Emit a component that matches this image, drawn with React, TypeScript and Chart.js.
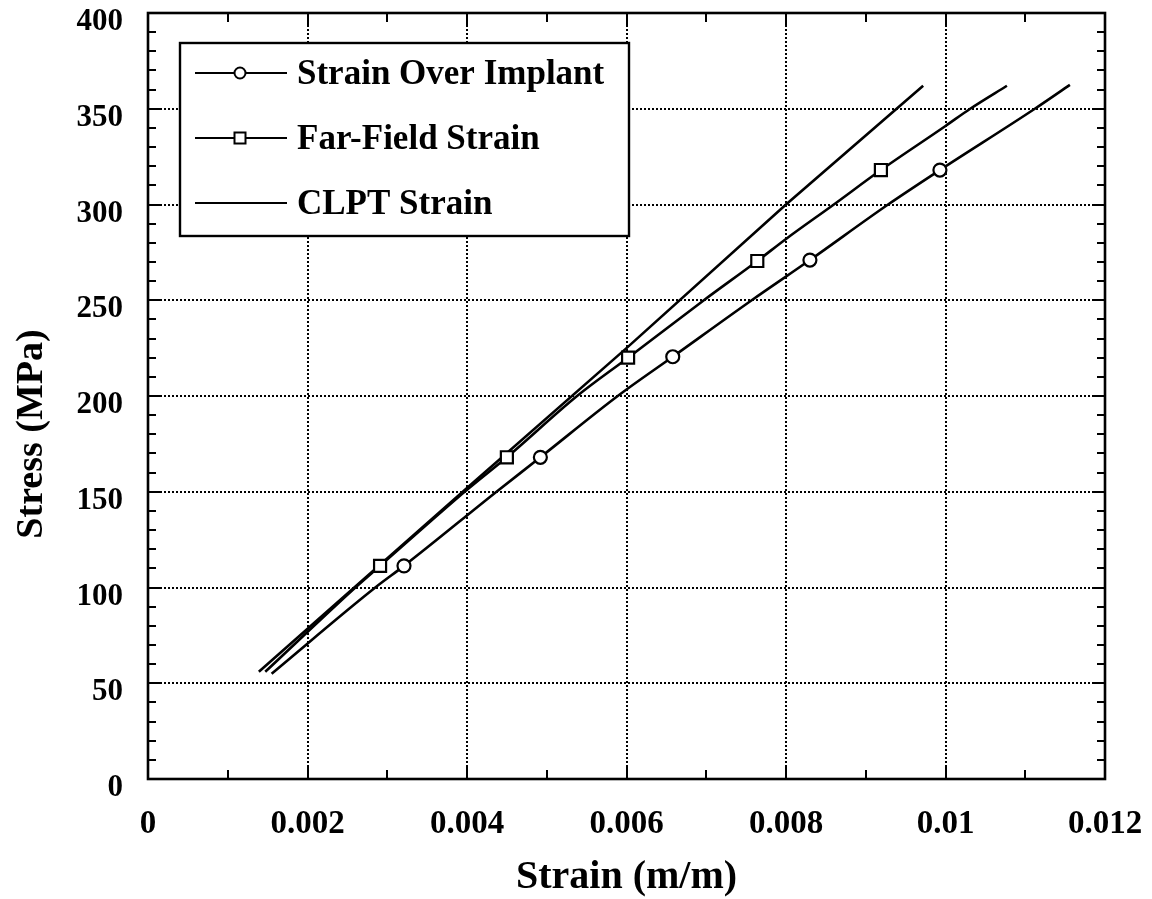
import React, { useEffect, useRef } from "react";
import { Chart, registerables } from "chart.js";

Chart.register(...registerables);

// ---- data ----
const implantStrain = [0.00155, 0.00285, 0.00321, 0.00437, 0.00492, 0.00589, 0.00658, 0.00757, 0.0083, 0.00928, 0.00993, 0.01112, 0.01156];
const implantStress = [55, 100, 111.3, 150, 168, 200, 220.5, 250, 271, 300, 318, 350, 362.5];
const implantMarkers = [2, 4, 6, 8, 10];

const farStrain = [0.00147, 0.0026, 0.00291, 0.004, 0.0045, 0.00538, 0.00602, 0.00697, 0.00764, 0.008, 0.0086, 0.00919, 0.01, 0.01031, 0.01077];
const farStress = [56, 100, 111.3, 151, 168, 200, 220, 250, 270.5, 282, 300, 318, 341, 350, 362];
const farMarkers = [2, 4, 6, 8, 11];

const clptStrain = [0.00139, 0.004, 0.006, 0.008, 0.00972];
const clptStress = [56, 152, 225, 300, 362];

const seriesNames = ["Strain Over Implant", "Far-Field Strain", "CLPT Strain"];

const xTickValues = [0, 0.002, 0.004, 0.006, 0.008, 0.01, 0.012];
const xTickLabels = ["0", "0.002", "0.004", "0.006", "0.008", "0.01", "0.012"];
const yTickValues = [0, 50, 100, 150, 200, 250, 300, 350, 400];
const yTickLabels = ["0", "50", "100", "150", "200", "250", "300", "350", "400"];
const xMinorStep = 0.001;
const yMinorStep = 10;

const xTitle = "Strain (m/m)";
const yTitle = "Stress (MPa)";

const FONT = '"Liberation Serif", "Times New Roman", serif';

function toPoints(xs: number[], ys: number[]) {
  return xs.map((x, i) => ({ x, y: ys[i] }));
}

const decorPlugin = {
  id: "decor",
  beforeDatasetsDraw(chart: any) {
    const { ctx, chartArea: a, scales } = chart;
    const x = scales.x;
    const y = scales.y;
    ctx.save();
    ctx.strokeStyle = "#000";
    // dotted grid
    ctx.lineWidth = 2;
    ctx.setLineDash([2, 2]);
    xTickValues.slice(1, -1).forEach((v) => {
      const px = Math.round(x.getPixelForValue(v));
      ctx.beginPath();
      ctx.moveTo(px, a.top);
      ctx.lineTo(px, a.bottom);
      ctx.stroke();
    });
    yTickValues.slice(1, -1).forEach((v) => {
      const py = Math.round(y.getPixelForValue(v));
      ctx.beginPath();
      ctx.moveTo(a.left, py);
      ctx.lineTo(a.right, py);
      ctx.stroke();
    });
    ctx.setLineDash([]);
    ctx.lineWidth = 2;
    // minor + major ticks (inward)
    const nx = Math.round(0.012 / xMinorStep);
    for (let i = 1; i < nx; i++) {
      const v = i * xMinorStep;
      const major = i % 2 === 0;
      const len = major ? 12 : 9;
      const px = Math.round(x.getPixelForValue(v));
      ctx.beginPath();
      ctx.moveTo(px, a.bottom);
      ctx.lineTo(px, a.bottom - len);
      ctx.moveTo(px, a.top);
      ctx.lineTo(px, a.top + len);
      ctx.stroke();
    }
    const ny = Math.round(400 / yMinorStep);
    for (let i = 1; i < ny; i++) {
      const v = i * yMinorStep;
      const major = i % 5 === 0;
      const len = major ? 12 : 8;
      const py = Math.round(y.getPixelForValue(v));
      ctx.beginPath();
      ctx.moveTo(a.left, py);
      ctx.lineTo(a.left + len, py);
      ctx.moveTo(a.right, py);
      ctx.lineTo(a.right - len, py);
      ctx.stroke();
    }
    // frame
    ctx.lineWidth = 2.6;
    ctx.strokeRect(a.left, a.top, a.right - a.left, a.bottom - a.top);
    ctx.restore();
  },
  afterDraw(chart: any) {
    const { ctx, chartArea: a } = chart;
    ctx.save();
    ctx.fillStyle = "#000";
    // axis titles
    ctx.font = `bold 40px ${FONT}`;
    ctx.textAlign = "center";
    ctx.textBaseline = "alphabetic";
    ctx.fillText(xTitle, (a.left + a.right) / 2, 888);
    ctx.save();
    ctx.translate(42, 434);
    ctx.rotate(-Math.PI / 2);
    ctx.font = `bold 38px ${FONT}`;
    ctx.fillText(yTitle, 0, 0);
    ctx.restore();

    // legend box
    const bx = 180, by = 43, bw = 449, bh = 193;
    ctx.fillStyle = "#fff";
    ctx.fillRect(bx, by, bw, bh);
    ctx.strokeStyle = "#000";
    ctx.lineWidth = 2.4;
    ctx.strokeRect(bx, by, bw, bh);
    const rows = [73, 138, 203];
    const styles = ["circle", "rect", "none"];
    rows.forEach((cy, i) => {
      ctx.strokeStyle = "#000";
      ctx.lineWidth = 1.8;
      ctx.beginPath();
      ctx.moveTo(195, cy);
      ctx.lineTo(287, cy);
      ctx.stroke();
      ctx.lineWidth = 2;
      ctx.fillStyle = "#fff";
      if (styles[i] === "circle") {
        ctx.beginPath();
        ctx.arc(240, cy, 5.5, 0, Math.PI * 2);
        ctx.fill();
        ctx.stroke();
      } else if (styles[i] === "rect") {
        ctx.fillRect(234.5, cy - 5.5, 11, 11);
        ctx.strokeRect(234.5, cy - 5.5, 11, 11);
      }
      ctx.fillStyle = "#000";
      ctx.font = `bold 35px ${FONT}`;
      ctx.textAlign = "left";
      ctx.textBaseline = "alphabetic";
      ctx.fillText(seriesNames[i], 297, cy + 11);
    });
    ctx.restore();
  },
};

export default function App() {
  const ref = useRef<HTMLCanvasElement | null>(null);
  useEffect(() => {
    document.body.style.margin = "0";
    const canvas = ref.current;
    if (!canvas) return;
    const markerRadius = (marks: number[], r: number) => (c: any) => (marks.includes(c.dataIndex) ? r : 0);
    const chart = new Chart(canvas, {
      type: "scatter",
      data: {
        datasets: [
          {
            label: seriesNames[0],
            data: toPoints(implantStrain, implantStress),
            showLine: true,
            cubicInterpolationMode: "monotone",
            borderColor: "#000",
            borderWidth: 2.6,
            pointStyle: "circle",
            pointRadius: markerRadius(implantMarkers, 6.5),
            pointHoverRadius: 0,
            pointBorderWidth: 2.2,
            pointBorderColor: "#000",
            pointBackgroundColor: "#fff",
          },
          {
            label: seriesNames[1],
            data: toPoints(farStrain, farStress),
            showLine: true,
            cubicInterpolationMode: "monotone",
            borderColor: "#000",
            borderWidth: 2.6,
            pointStyle: "rect",
            pointRadius: markerRadius(farMarkers, 8.5),
            pointHoverRadius: 0,
            pointBorderWidth: 2.2,
            pointBorderColor: "#000",
            pointBackgroundColor: "#fff",
          },
          {
            label: seriesNames[2],
            data: toPoints(clptStrain, clptStress),
            showLine: true,
            borderColor: "#000",
            borderWidth: 2.6,
            pointRadius: 0,
            pointHoverRadius: 0,
          },
        ],
      },
      options: {
        animation: false,
        responsive: false,
        devicePixelRatio: 1,
        layout: { padding: { top: 13, right: 47, left: 0, bottom: 0 } },
        plugins: { legend: { display: false }, tooltip: { enabled: false } },
        events: [],
        scales: {
          x: {
            type: "linear",
            min: 0,
            max: 0.012,
            afterBuildTicks: (s: any) => {
              s.ticks = xTickValues.map((v) => ({ value: v }));
            },
            afterFit: (s: any) => {
              s.height = 120;
              s.paddingLeft = 0;
              s.paddingRight = 0;
            },
            grid: { display: false, drawTicks: false },
            border: { display: false },
            ticks: {
              autoSkip: false,
              maxRotation: 0,
              padding: 26,
              color: "#000",
              font: { family: FONT, size: 33, weight: "bold" },
              callback: (_v: any, i: number) => xTickLabels[i],
            },
            title: { display: false },
          },
          y: {
            type: "linear",
            min: 0,
            max: 400,
            afterBuildTicks: (s: any) => {
              s.ticks = yTickValues.map((v) => ({ value: v }));
            },
            afterFit: (s: any) => {
              s.width = 148;
              s.paddingTop = 0;
              s.paddingBottom = 0;
            },
            grid: { display: false, drawTicks: false },
            border: { display: false },
            ticks: {
              autoSkip: false,
              padding: 25,
              labelOffset: 9,
              color: "#000",
              font: { family: FONT, size: 31, weight: "bold" },
              callback: (_v: any, i: number) => yTickLabels[i],
            },
            title: { display: false },
          },
        },
      },
      plugins: [decorPlugin],
    } as any);
    return () => chart.destroy();
  }, []);
  return (
    <div style={{ width: 1152, height: 899, background: "#fff" }}>
      <canvas ref={ref} width={1152} height={899} />
    </div>
  );
}
